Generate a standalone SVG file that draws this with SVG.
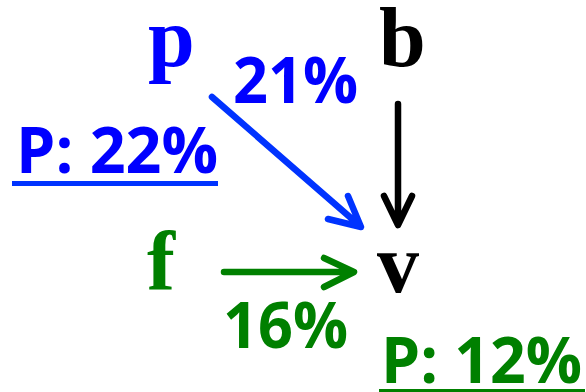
<svg xmlns="http://www.w3.org/2000/svg" width="586" height="392" viewBox="0 0 586 392">
<style>
.var{font-family:"Liberation Serif","Times New Roman",serif;font-weight:bold;font-size:84px}
.pct{font-family:"Open Sans","Liberation Sans",sans-serif;font-weight:bold;font-size:65px}
.edge{fill:none;stroke-width:6.5;stroke-linecap:round;stroke-linejoin:round}
</style>
<rect width="586" height="392" fill="#fff"/>
<g id="node-p">
<text class="var" x="148" y="66" fill="#0000ff">p</text>
<text class="pct" x="16" y="173" fill="#0000ff" textLength="202" lengthAdjust="spacingAndGlyphs">P: 22%</text>
<rect x="12" y="181" width="206" height="5" fill="#0033ff"/>
</g>
<g id="node-b">
<text class="var" x="379" y="66" fill="#000">b</text>
</g>
<g id="node-f">
<text class="var" x="147" y="290" fill="#008000">f</text>
</g>
<g id="node-v">
<text class="var" x="377" y="292" fill="#000">v</text>
<text class="pct" x="381" y="383" fill="#008000" textLength="201" lengthAdjust="spacingAndGlyphs">P: 12%</text>
<rect x="379" y="389" width="206" height="3" fill="#008000"/>
</g>
<g id="connectors">
<path class="edge" stroke="#0033ff" d="M212 97 L359 225 M328 219 L361 227 L348 196"/>
<text class="pct" x="233" y="103" fill="#0000ff" textLength="125" lengthAdjust="spacingAndGlyphs">21%</text>
<path class="edge" stroke="#000" d="M398 104 L398 223 M384 196 L398 225 L412 196"/>
<path class="edge" stroke="#008000" d="M224 272 L352 272 M324 258 L354 272 L324 287"/>
<text class="pct" x="223" y="348" fill="#008000" textLength="125" lengthAdjust="spacingAndGlyphs">16%</text>
</g>
</svg>
